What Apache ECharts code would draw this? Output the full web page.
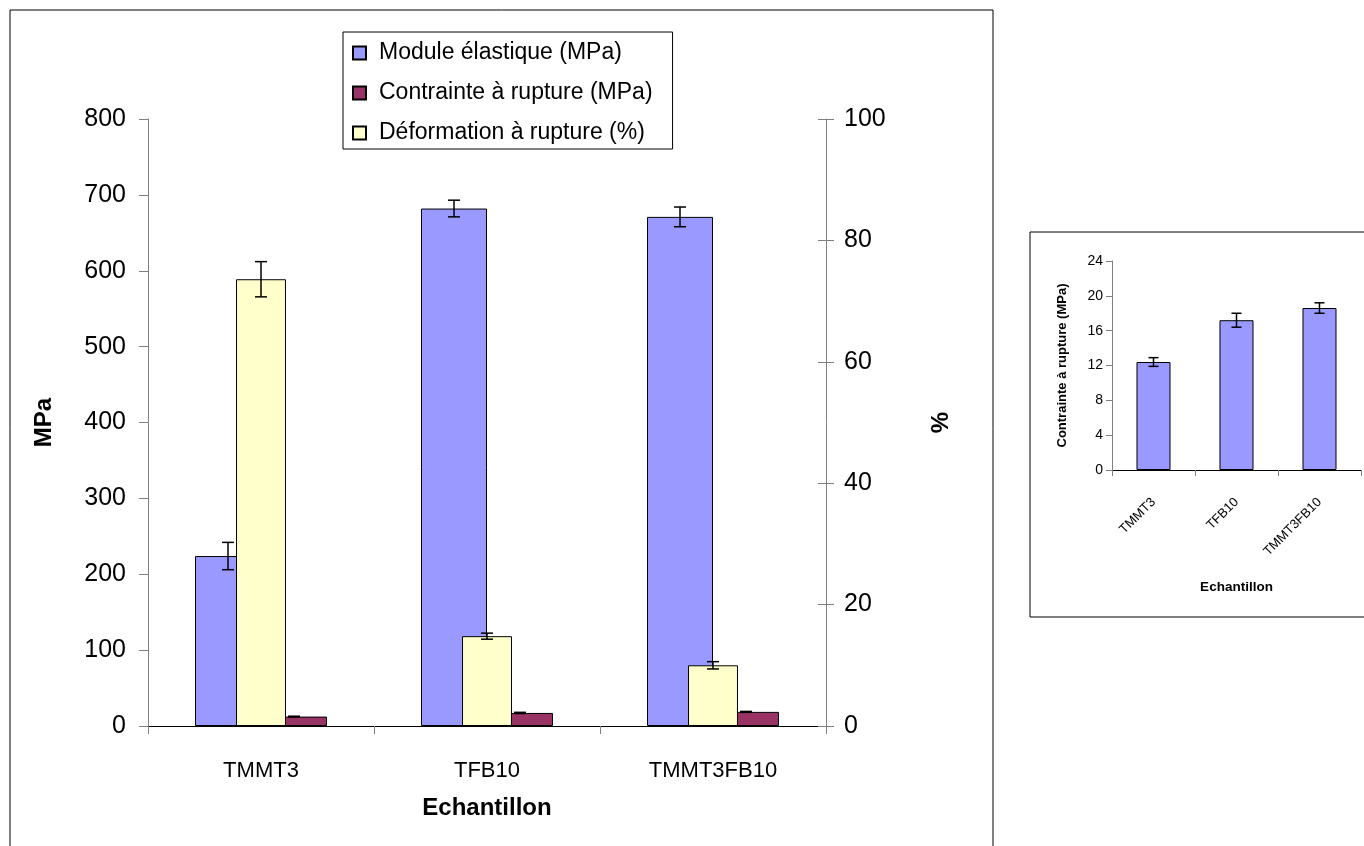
<!DOCTYPE html>
<html>
<head>
<meta charset="utf-8">
<script src="https://cdn.jsdelivr.net/npm/echarts@6/dist/echarts.min.js"></script>
<style>
html,body{margin:0;padding:0;background:#fff;}
#chart{width:1364px;height:846px;}
</style>
</head>
<body>
<div id="chart"></div>
<script>
// ---- data ----
const categories = ['TMMT3', 'TFB10', 'TMMT3FB10'];
const moduleValues = [224, 682, 671];
const moduleErrors = [18, 11, 13];
const contrainteValues = [12.4, 17.2, 18.6];
const contrainteErrors = [0.5, 0.8, 0.6];
const deformationValues = [73.6, 14.8, 10.0];
const deformationErrors = [2.9, 0.5, 0.6];
const mpaTicks = { min: 0, max: 800, interval: 100 };
const pctTicks = { min: 0, max: 100, interval: 20 };
const insetTicks = { min: 0, max: 24, interval: 4 };
const seriesNames = ['Module élastique (MPa)', 'Contrainte à rupture (MPa)', 'Déformation à rupture (%)'];

const FONT = '"Liberation Sans", Arial, sans-serif';
const BLUE = '#9999FF', MAROON = '#993366', YELLOW = '#FFFFCC';

function errData(vals, errs) {
  return vals.map((v, i) => [i, v - errs[i], v + errs[i]]);
}
function errRender(offsetFrac, cap) {
  return function (params, api) {
    const xi = api.value(0);
    const lo = api.coord([xi, api.value(1)]);
    const hi = api.coord([xi, api.value(2)]);
    const band = api.size([1, 0])[0];
    const x = lo[0] + offsetFrac * band;
    const st = { stroke: '#000', lineWidth: 1.5 };
    return {
      type: 'group',
      children: [
        { type: 'line', shape: { x1: x, y1: lo[1], x2: x, y2: hi[1] }, style: st },
        { type: 'line', shape: { x1: x - cap, y1: hi[1], x2: x + cap, y2: hi[1] }, style: st },
        { type: 'line', shape: { x1: x - cap, y1: lo[1], x2: x + cap, y2: lo[1] }, style: st }
      ]
    };
  };
}

const chart = echarts.init(document.getElementById('chart'), null, { renderer: 'canvas' });
const barBorder = { borderColor: '#000', borderWidth: 1 };

const option = {
  animation: false,
  backgroundColor: '#fff',
  textStyle: { fontFamily: FONT },
  graphic: [
    { type: 'rect', shape: { x: 10, y: 10, width: 983, height: 850 }, style: { fill: 'none', stroke: '#000', lineWidth: 1 }, z: -1 },
    { type: 'rect', shape: { x: 1030, y: 232, width: 345, height: 385 }, style: { fill: 'none', stroke: '#000', lineWidth: 1 }, z: -1 }
  ],
  legend: {
    data: seriesNames,
    orient: 'vertical',
    left: 343, top: 32,
    padding: [9, 20, 4, 9],
    itemWidth: 13, itemHeight: 13,
    itemGap: 16,
    icon: 'rect',
    borderColor: '#000', borderWidth: 1,
    backgroundColor: '#fff',
    textStyle: { fontFamily: FONT, fontSize: 23, color: '#000', lineHeight: 24, padding: [0, 0, 0, 8] }
  },
  grid: [
    { left: 148, right: 538, top: 119, bottom: 120 },
    { left: 1112, right: 3, top: 261, bottom: 376 }
  ],
  xAxis: [
    {
      type: 'category', gridIndex: 0, data: categories,
      axisLine: { lineStyle: { color: '#000', width: 1 } },
      axisTick: { show: true, length: 8, lineStyle: { color: '#808080' } },
      axisLabel: { fontSize: 22, color: '#000', margin: 34, fontFamily: FONT },
      name: 'Echantillon', nameLocation: 'middle', nameGap: 70,
      nameTextStyle: { fontSize: 24, fontWeight: 'bold', color: '#000', fontFamily: FONT }
    },
    { type: 'category', gridIndex: 0, data: categories, show: false },
    {
      type: 'category', gridIndex: 1, data: categories,
      axisLine: { lineStyle: { color: '#000', width: 1 } },
      axisTick: { show: true, length: 6, lineStyle: { color: '#808080' } },
      axisLabel: { fontSize: 13, color: '#000', rotate: 45, margin: 30, fontFamily: FONT },
      name: 'Echantillon', nameLocation: 'middle', nameGap: 110,
      nameTextStyle: { fontSize: 13.5, fontWeight: 'bold', color: '#000', fontFamily: FONT }
    }
  ],
  yAxis: [
    {
      type: 'value', gridIndex: 0, min: mpaTicks.min, max: mpaTicks.max, interval: mpaTicks.interval,
      axisLine: { show: true, lineStyle: { color: '#808080' } },
      axisTick: { show: true, length: 9, lineStyle: { color: '#808080' } },
      splitLine: { show: false },
      axisLabel: { fontSize: 25, color: '#000', margin: 22, fontFamily: FONT },
      name: 'MPa', nameLocation: 'middle', nameGap: 92, nameRotate: 90,
      nameTextStyle: { fontSize: 24, fontWeight: 'bold', color: '#000', fontFamily: FONT }
    },
    {
      type: 'value', gridIndex: 0, position: 'right', min: pctTicks.min, max: pctTicks.max, interval: pctTicks.interval,
      axisLine: { show: true, lineStyle: { color: '#808080' } },
      axisTick: { show: true, length: 8, lineStyle: { color: '#808080' } },
      splitLine: { show: false },
      axisLabel: { fontSize: 25, color: '#000', margin: 18, fontFamily: FONT },
      name: '%', nameLocation: 'middle', nameGap: 103, nameRotate: 90,
      nameTextStyle: { fontSize: 24, fontWeight: 'bold', color: '#000', fontFamily: FONT }
    },
    {
      type: 'value', gridIndex: 1, min: insetTicks.min, max: insetTicks.max, interval: insetTicks.interval,
      axisLine: { show: true, lineStyle: { color: '#808080' } },
      axisTick: { show: true, length: 6, lineStyle: { color: '#808080' } },
      splitLine: { show: false },
      axisLabel: { fontSize: 14, color: '#000', margin: 9, fontFamily: FONT },
      name: 'Contrainte à rupture (MPa)', nameLocation: 'middle', nameGap: 43, nameRotate: 90,
      nameTextStyle: { fontSize: 13, fontWeight: 'bold', color: '#000', fontFamily: FONT }
    },
    {
      type: 'value', gridIndex: 0, position: 'right', min: pctTicks.min, max: pctTicks.max, interval: pctTicks.interval,
      axisLine: { show: false }, axisLabel: { show: false }, splitLine: { show: false },
      axisTick: { show: true, inside: true, length: 8, lineStyle: { color: '#808080' } }
    }
  ],
  series: [
    {
      name: seriesNames[0], type: 'bar', xAxisIndex: 0, yAxisIndex: 0,
      data: moduleValues, barWidth: '29.2%', barGap: '0%',
      itemStyle: Object.assign({ color: BLUE }, barBorder)
    },
    {
      name: seriesNames[1], type: 'bar', xAxisIndex: 0, yAxisIndex: 0,
      data: contrainteValues, barWidth: '29.2%', barGap: '0%',
      itemStyle: Object.assign({ color: MAROON }, barBorder)
    },
    {
      type: 'custom', xAxisIndex: 0, yAxisIndex: 0, z: 3,
      data: errData(moduleValues, moduleErrors), renderItem: errRender(-0.146, 6)
    },
    {
      type: 'custom', xAxisIndex: 0, yAxisIndex: 0, z: 3,
      data: errData(contrainteValues, contrainteErrors), renderItem: errRender(0.146, 6)
    },
    {
      name: seriesNames[2], type: 'bar', xAxisIndex: 1, yAxisIndex: 1, z: 4,
      data: deformationValues, barWidth: '22.1%',
      itemStyle: Object.assign({ color: YELLOW }, barBorder)
    },
    {
      type: 'custom', xAxisIndex: 1, yAxisIndex: 1, z: 5,
      data: errData(deformationValues, deformationErrors), renderItem: errRender(0, 6)
    },
    {
      name: 'inset', type: 'bar', xAxisIndex: 2, yAxisIndex: 2,
      data: contrainteValues, barWidth: '41%',
      itemStyle: Object.assign({ color: BLUE }, barBorder)
    },
    {
      type: 'custom', xAxisIndex: 2, yAxisIndex: 2, z: 5,
      data: errData(contrainteValues, contrainteErrors), renderItem: errRender(0, 5)
    }
  ]
};
chart.setOption(option);
</script>
</body>
</html>
